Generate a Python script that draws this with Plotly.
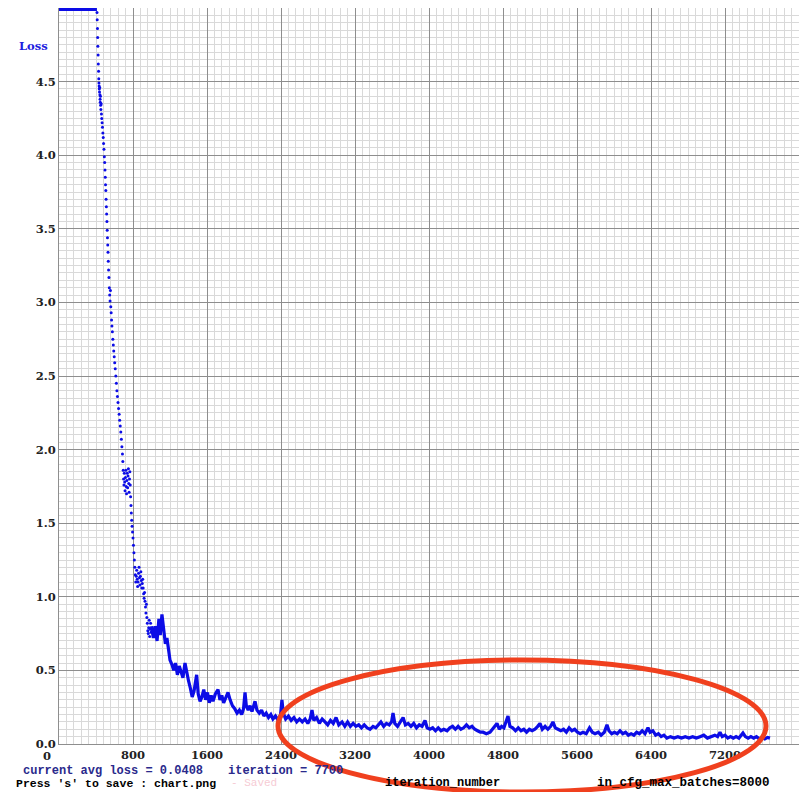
import plotly.graph_objects as go

# ---------------- data ----------------
plateau_iter = [0, 410]
plateau_loss = [4.99, 4.99]

descent_iter = [411, 413, 416, 418, 420, 423, 425, 428, 430, 432, 434, 436, 438, 440, 442, 444, 446, 448, 450,
                453, 456, 459, 462, 466, 470, 474, 478, 482, 486, 490, 494, 497, 500, 503, 506, 509, 512, 515,
                518, 521, 524, 527, 530, 533, 536, 540, 544, 548, 552, 556, 560, 564, 568, 572, 577, 582, 587,
                592, 597, 602, 608, 614, 620, 626, 632, 638, 644, 650, 656, 662, 668, 674, 680, 686, 690, 694,
                698, 702, 706, 710, 714, 718, 722, 726, 730, 734, 738, 742, 746, 750, 754, 758, 762, 766, 770,
                774, 778, 782, 786, 790, 795, 800, 805, 810, 815, 820, 825, 830, 835, 840, 845, 850, 855, 860,
                865, 870, 875, 880, 885, 890, 895, 900, 905, 910, 915, 920, 925, 930, 935, 940, 945, 950, 955,
                960, 965, 970, 975, 980, 985, 990, 995]
descent_loss = [4.97, 4.92, 4.86, 4.80, 4.74, 4.68, 4.62, 4.57, 4.52, 4.49, 4.47, 4.45, 4.43, 4.46, 4.41, 4.38,
                4.36, 4.40, 4.34, 4.31, 4.35, 4.28, 4.25, 4.22, 4.19, 4.15, 4.12, 4.08, 4.04, 3.99, 3.95, 3.90,
                3.85, 3.80, 3.76, 3.70, 3.65, 3.60, 3.55, 3.49, 3.44, 3.39, 3.34, 3.28, 3.22, 3.17, 3.10, 3.05,
                3.01, 3.08, 2.97, 2.93, 2.88, 2.84, 2.80, 2.75, 2.71, 2.67, 2.63, 2.59, 2.55, 2.50, 2.45, 2.40,
                2.36, 2.32, 2.28, 2.24, 2.20, 2.16, 2.12, 2.07, 2.02, 1.97, 1.92, 1.86, 1.80, 1.76, 1.84, 1.78,
                1.72, 1.81, 1.86, 1.75, 1.70, 1.79, 1.84, 1.74, 1.82, 1.87, 1.77, 1.71, 1.80, 1.85, 1.76, 1.68,
                1.62, 1.57, 1.52, 1.48, 1.44, 1.40, 1.35, 1.30, 1.25, 1.20, 1.15, 1.10, 1.14, 1.18, 1.12, 1.07,
                1.10, 1.16, 1.20, 1.13, 1.08, 1.14, 1.17, 1.11, 1.06, 1.09, 1.12, 1.06, 1.02, 0.99, 1.03, 0.97,
                0.93, 0.89, 0.95, 0.86, 0.82, 0.77, 0.75, 0.79, 0.84, 0.73, 0.78, 0.82, 0.76, 0.81, 0.74]

tail_iter = [1000, 1020, 1040, 1060, 1080, 1095, 1113, 1130, 1150, 1167, 1185, 1200, 1221, 1240, 1260, 1280,
             1300, 1320, 1340, 1362, 1380, 1400, 1420, 1440, 1460, 1488, 1505, 1525, 1545, 1565, 1585, 1605,
             1625, 1645, 1665, 1690, 1719, 1740, 1760, 1780, 1800, 1827, 1850, 1875, 1900, 1925, 1950, 1975,
             1995, 2011, 2025, 2045, 2065, 2086, 2105, 2119, 2140, 2165, 2190, 2215, 2240, 2265, 2290, 2313,
             2340, 2370, 2395, 2410, 2425, 2450, 2480, 2510, 2540, 2570, 2600, 2630, 2660, 2690, 2715, 2735,
             2755, 2785, 2815, 2845, 2875, 2905, 2935, 2965, 2995, 3025, 3060, 3090, 3120, 3150, 3180, 3210,
             3240, 3270, 3300, 3330, 3362, 3395, 3425, 3455, 3480, 3510, 3540, 3570, 3595, 3611, 3630, 3660,
             3690, 3720, 3745, 3775, 3805, 3835, 3865, 3895, 3925, 3957, 3980, 4010, 4040, 4070, 4100, 4130,
             4160, 4195, 4225, 4255, 4285, 4315, 4345, 4375, 4405, 4435, 4465, 4495, 4525, 4555, 4585, 4620,
             4660, 4700, 4735, 4760, 4785, 4810, 4835, 4854, 4875, 4905, 4935, 4965, 4995, 5025, 5055, 5085,
             5115, 5145, 5175, 5200, 5225, 5255, 5285, 5315, 5340, 5365, 5395, 5425, 5455, 5485, 5515, 5545,
             5575, 5605, 5635, 5665, 5700, 5735, 5765, 5795, 5830, 5860, 5895, 5924, 5945, 5975, 6005, 6035,
             6065, 6095, 6125, 6155, 6185, 6215, 6245, 6275, 6305, 6335, 6367, 6390, 6420, 6450, 6480, 6510,
             6540, 6572, 6610, 6650, 6690, 6730, 6770, 6810, 6850, 6890, 6930, 6970, 7010, 7050, 7090, 7120,
             7146, 7170, 7200, 7230, 7260, 7290, 7320, 7350, 7394, 7420, 7450, 7480, 7510, 7540, 7570, 7600,
             7630, 7660, 7686]
tail_loss = [0.80, 0.72, 0.80, 0.70, 0.85, 0.74, 0.88, 0.76, 0.68, 0.72, 0.62, 0.57, 0.54, 0.50, 0.55, 0.47,
             0.53, 0.48, 0.45, 0.55, 0.48, 0.43, 0.38, 0.32, 0.36, 0.47, 0.34, 0.29, 0.32, 0.37, 0.30, 0.35,
             0.28, 0.33, 0.29, 0.34, 0.37, 0.30, 0.33, 0.28, 0.31, 0.35, 0.30, 0.26, 0.24, 0.21, 0.23, 0.20,
             0.24, 0.35, 0.26, 0.23, 0.26, 0.22, 0.26, 0.29, 0.23, 0.21, 0.23, 0.19, 0.21, 0.18, 0.20, 0.17,
             0.19, 0.16, 0.20, 0.30, 0.21, 0.17, 0.19, 0.16, 0.18, 0.15, 0.17, 0.15, 0.17, 0.14, 0.17, 0.23,
             0.16, 0.18, 0.14, 0.17, 0.15, 0.13, 0.16, 0.14, 0.18, 0.13, 0.15, 0.12, 0.15, 0.12, 0.14, 0.12,
             0.13, 0.11, 0.13, 0.11, 0.10, 0.12, 0.11, 0.13, 0.15, 0.12, 0.14, 0.13, 0.15, 0.21, 0.14, 0.12,
             0.15, 0.18, 0.13, 0.14, 0.12, 0.14, 0.11, 0.13, 0.12, 0.16, 0.11, 0.10, 0.11, 0.09, 0.11, 0.09,
             0.10, 0.09, 0.11, 0.12, 0.10, 0.12, 0.10, 0.11, 0.13, 0.11, 0.12, 0.10, 0.09, 0.08, 0.08, 0.07,
             0.08, 0.11, 0.14, 0.10, 0.12, 0.11, 0.15, 0.19, 0.12, 0.11, 0.09, 0.11, 0.09, 0.10, 0.08, 0.10,
             0.09, 0.10, 0.12, 0.14, 0.10, 0.12, 0.10, 0.12, 0.15, 0.11, 0.10, 0.09, 0.10, 0.08, 0.11, 0.09,
             0.10, 0.08, 0.07, 0.08, 0.07, 0.11, 0.08, 0.07, 0.08, 0.06, 0.08, 0.13, 0.09, 0.07, 0.08, 0.07,
             0.09, 0.07, 0.08, 0.06, 0.07, 0.06, 0.08, 0.07, 0.09, 0.07, 0.11, 0.08, 0.09, 0.06, 0.07, 0.05,
             0.06, 0.04, 0.05, 0.04, 0.05, 0.04, 0.05, 0.04, 0.05, 0.04, 0.05, 0.06, 0.04, 0.05, 0.06, 0.05,
             0.08, 0.05, 0.06, 0.04, 0.05, 0.04, 0.05, 0.04, 0.075, 0.05, 0.04, 0.05, 0.04, 0.05, 0.035, 0.045,
             0.035, 0.045, 0.04]

x_tick_vals = [800, 1600, 2400, 3200, 4000, 4800, 5600, 6400, 7200, 8000]
x_tick_labels = ["800", "1600", "2400", "3200", "4000", "4800", "5600", "6400", "7200", "8000"]
y_tick_vals = [0.0, 0.5, 1.0, 1.5, 2.0, 2.5, 3.0, 3.5, 4.0, 4.5]
y_tick_labels = ["0.0", "0.5", "1.0", "1.5", "2.0", "2.5", "3.0", "3.5", "4.0", "4.5"]

# ---------------- layout geometry (pixels) ----------------
W, H = 802, 792
L, R, T, B = 59, 3, 8, 48
PW, PH = W - L - R, H - T - B


def px(x):
    return (x - L) / PW


def py(y):
    return (H - B - y) / PH


BLUE = "#0c0ce6"
MAJOR = "#8e8e8e"
MINOR = "#d9d9d9"
TICKFONT = dict(family="DejaVu Serif", size=11.5, color="#222222", weight="bold")
MONO = "Liberation Mono"

fig = go.Figure()
fig.add_trace(go.Scatter(x=plateau_iter, y=plateau_loss, mode="lines",
                         line=dict(color=BLUE, width=3), cliponaxis=False, hoverinfo="skip"))
fig.add_trace(go.Scatter(x=descent_iter, y=descent_loss, mode="markers",
                         marker=dict(color=BLUE, size=3), hoverinfo="skip"))
fig.add_trace(go.Scatter(x=tail_iter, y=tail_loss, mode="lines",
                         line=dict(color=BLUE, width=3.2), hoverinfo="skip"))

fig.update_layout(
    width=W, height=H, margin=dict(l=L, r=R, t=T, b=B),
    paper_bgcolor="white", plot_bgcolor="white", showlegend=False,
)
fig.update_xaxes(
    range=[0, 8000], tickmode="array", tickvals=x_tick_vals, ticktext=x_tick_labels,
    tickfont=TICKFONT, ticks="", showgrid=True, gridcolor=MAJOR, gridwidth=1,
    minor=dict(tickmode="linear", tick0=0, dtick=80, showgrid=True, gridcolor=MINOR, gridwidth=1),
    zeroline=False, showline=True, linecolor=MAJOR, linewidth=1,
)
fig.update_yaxes(
    range=[0, 5], tickmode="array", tickvals=y_tick_vals, ticktext=y_tick_labels,
    tickfont=TICKFONT, ticks="", showgrid=True, gridcolor=MAJOR, gridwidth=1,
    minor=dict(tickmode="linear", tick0=0, dtick=0.05, showgrid=True, gridcolor=MINOR, gridwidth=1),
    zeroline=False, showline=True, linecolor=MAJOR, linewidth=1,
)


def txt(text, x, y, font, anchor="left"):
    fig.add_annotation(text=text, x=px(x), y=py(y), xref="paper", yref="paper",
                       xanchor=anchor, yanchor="middle", showarrow=False, font=font,
                       borderpad=0)


txt("Loss", 33, 46, dict(family="DejaVu Serif", size=11.5, color="#1f1fe0", weight="bold"), "center")
txt("0", 47, 756, TICKFONT, "center")
txt("current avg loss = 0.0408", 22, 771, dict(family=MONO, size=12, color="#2a2a8c", weight="bold"))
txt("iteration = 7700", 227, 771, dict(family=MONO, size=12, color="#2a2a8c", weight="bold"))
txt("Press 's' to save : chart.png", 15, 783, dict(family=MONO, size=11.5, color="#000000", weight="bold"))
txt("- Saved", 230, 783, dict(family=MONO, size=11, color="#f6cbd4"))
txt("iteration_number", 384, 783, dict(family=MONO, size=12, color="#000000", weight="bold"))
txt("in_cfg_max_batches=8000", 596, 783, dict(family=MONO, size=12.5, color="#000000", weight="bold"))

# hand-drawn red ellipse annotation
fig.add_shape(type="circle", xref="paper", yref="paper",
              x0=px(278), x1=px(766), y0=py(792), y1=py(660),
              line=dict(color="#f0401e", width=5), layer="above")

fig.write_html(
    "out.html",
    config={"displayModeBar": False},
    post_script="document.body.style.margin='0';document.body.style.overflow='hidden';",
)
